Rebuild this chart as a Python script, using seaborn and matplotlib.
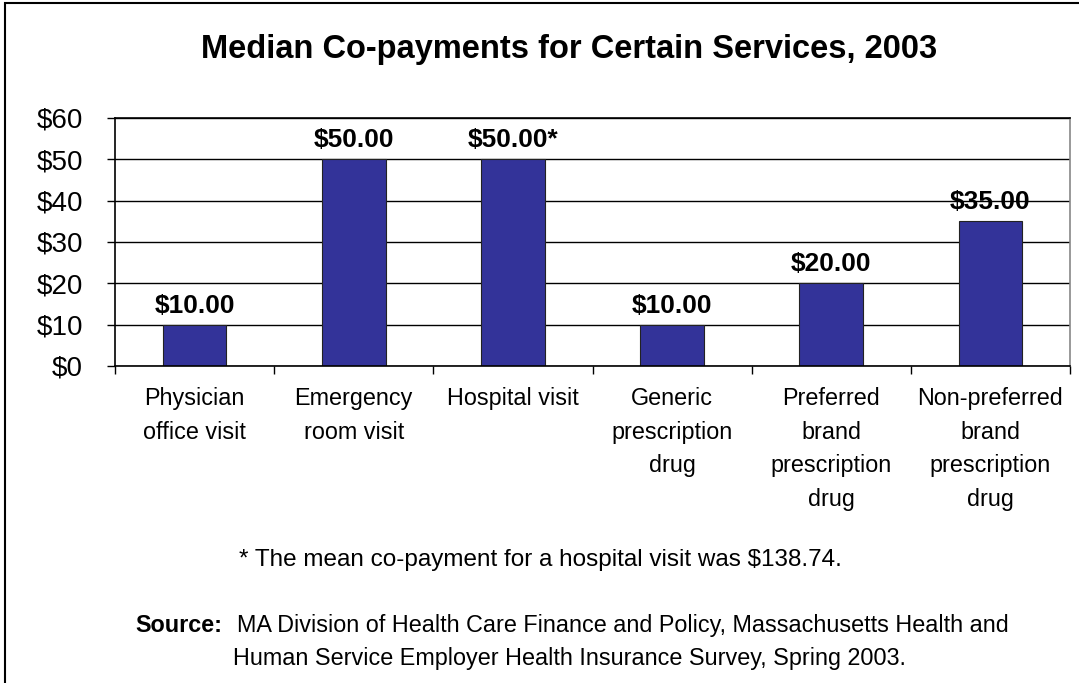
import matplotlib
matplotlib.use("Agg")
import matplotlib.pyplot as plt
import seaborn as sns
import pandas as pd
from matplotlib.patches import Rectangle
from matplotlib.ticker import FixedLocator, FuncFormatter

categories = ["Physician\noffice visit", "Emergency\nroom visit", "Hospital visit",
              "Generic\nprescription\ndrug", "Preferred\nbrand\nprescription\ndrug",
              "Non-preferred\nbrand\nprescription\ndrug"]
values = [10, 50, 50, 10, 20, 35]
label_marks = ["", "", "*", "", "", ""]
yticks = [0, 10, 20, 30, 40, 50, 60]

title = "Median Co-payments for Certain Services, 2003"
footnote = "* The mean co-payment for a hospital visit was $138.74."
source_head = "Source:"
source_line1 = "MA Division of Health Care Finance and Policy, Massachusetts Health and"
source_line2 = "Human Service Employer Health Insurance Survey, Spring 2003."

sns.set_theme(style="white", rc={"text.color": "black", "xtick.color": "black",
                                 "ytick.color": "black", "axes.labelcolor": "black"})
plt.rcParams['font.family'] = ['Liberation Sans', 'DejaVu Sans']

W, H = 1079, 683
fig = plt.figure(figsize=(W / 100, H / 100), dpi=100)
ax = fig.add_axes([115 / W, 1 - 366 / H, (1070 - 115) / W, (366 - 118) / H])

df = pd.DataFrame({"cat": categories, "val": values})
sns.barplot(data=df, x="cat", y="val", color="#333399", width=0.4,
            edgecolor="#222222", linewidth=0.8, saturation=1, ax=ax)

ax.set_ylim(0, 60)
ax.set_xlim(-0.5, len(categories) - 0.5)
ax.set_yticks(yticks)
ax.yaxis.set_major_formatter(FuncFormatter(lambda v, p: f"${int(v)}"))
ax.set_xlabel("")
ax.set_ylabel("")
ax.yaxis.grid(True, color="black", linewidth=1)
ax.set_axisbelow(True)
ax.tick_params(axis="y", which="major", direction="out", length=6, width=1,
               color="black", labelsize=20, pad=17, left=True)
ax.tick_params(axis="x", which="major", length=0, labelsize=16.8, pad=15)
ax.xaxis.set_minor_locator(FixedLocator([i - 0.5 for i in range(len(categories) + 1)]))
ax.tick_params(axis="x", which="minor", direction="out", length=6, width=1,
               color="black", bottom=True)
for lbl in ax.get_xticklabels():
    lbl.set_linespacing(1.6)

for s in ["left", "bottom", "top"]:
    ax.spines[s].set_color("black")
    ax.spines[s].set_linewidth(1.2)
ax.spines["right"].set_color("#888888")
ax.spines["right"].set_linewidth(1.2)

for i, (v, m) in enumerate(zip(values, label_marks)):
    ax.annotate(f"${v:.2f}{m}", xy=(i, v), xytext=(0, 5), textcoords="offset points",
                ha="center", va="bottom", fontsize=19, fontweight="bold")

fig.text(569 / W, 1 - 58 / H, title, ha="center", va="baseline",
         fontsize=23.5, fontweight="bold")
fig.text(540 / W, 1 - 566 / H, footnote, ha="center", va="baseline", fontsize=17.5)

fig.text(135 / W, 1 - 632 / H, source_head, ha="left", va="baseline",
         fontsize=16.8, fontweight="bold")
fig.text(237 / W, 1 - 632 / H, source_line1, ha="left", va="baseline", fontsize=16.8)
fig.text(233 / W, 1 - 665 / H, source_line2, ha="left", va="baseline", fontsize=16.8)

fig.add_artist(Rectangle((5 / W, -0.1), 1.2, 0.1 + (H - 3) / H, transform=fig.transFigure,
                         fill=False, edgecolor="black", linewidth=1.5, clip_on=False))

fig.savefig("out.png", dpi=100, facecolor="white")
